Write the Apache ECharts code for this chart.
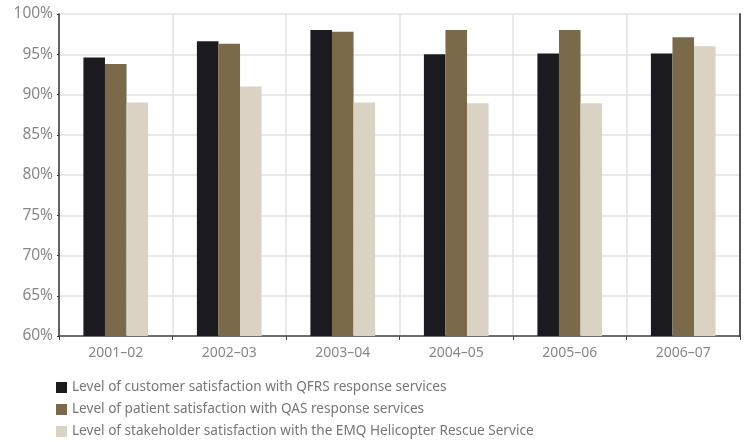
<!DOCTYPE html>
<html>
<head>
<meta charset="utf-8">
<script src="https://cdn.jsdelivr.net/npm/echarts@6/dist/echarts.min.js"></script>
<style>
  html, body { margin: 0; padding: 0; background: #fff; }
  #chart { width: 744px; height: 442px; }
</style>
</head>
<body>
<div id="chart"></div>
<script>
// chart data
const years = ['2001–02', '2002–03', '2003–04', '2004–05', '2005–06', '2006–07'];
const qfrsCustomer = [94.6, 96.6, 98.0, 95.0, 95.1, 95.1];
const qasPatient = [93.8, 96.3, 97.8, 98.0, 98.0, 97.1];
const emqStakeholder = [89.0, 91.0, 89.0, 88.9, 88.9, 96.0];
const yTicks = [60, 65, 70, 75, 80, 85, 90, 95, 100];

const seriesNames = [
    'Level of customer satisfaction with QFRS response services',
    'Level of patient satisfaction with QAS response services',
    'Level of stakeholder satisfaction with the EMQ Helicopter Rescue Service'
];
const colors = ['#1b1a1e', '#7a6a4a', '#dad3c4'];
const font = '"Noto Sans", sans-serif';

const chart = echarts.init(document.getElementById('chart'), null, { renderer: 'canvas' });

chart.setOption({
    animation: false,
    backgroundColor: '#fff',
    color: colors,
    textStyle: { fontFamily: font },
    grid: { left: 59, right: 4, top: 14, bottom: 106 },
    legend: {
        orient: 'vertical',
        left: 56,
        top: 379,
        height: 66,
        padding: 0,
        itemWidth: 11,
        itemHeight: 11,
        itemGap: 5,
        icon: 'rect',
        textStyle: { color: '#777', fontSize: 13.6, lineHeight: 17, fontFamily: font },
        data: seriesNames
    },
    xAxis: {
        type: 'category',
        data: years,
        axisLine: { lineStyle: { color: '#444', width: 1.5 } },
        axisTick: { show: true, length: 4, lineStyle: { color: '#444' } },
        axisLabel: { color: '#888', fontSize: 14, margin: 10, fontFamily: font },
        splitLine: { show: true, lineStyle: { color: '#e2e2e2', width: 1.5 } }
    },
    yAxis: [{
        type: 'value',
        min: 60,
        max: 100,
        interval: 5,
        axisLine: { show: true, lineStyle: { color: '#333', width: 1.5 } },
        axisTick: { show: true, length: 2, lineStyle: { color: '#333' } },
        axisLabel: {
            color: '#888', fontSize: 15.5, margin: 6, fontFamily: font,
            formatter: v => yTicks.includes(v) ? v + '%' : ''
        },
        splitLine: { lineStyle: { color: '#e2e2e2', width: 1.5 } }
    }, {
        type: 'value',
        position: 'right',
        min: 60,
        max: 100,
        axisLine: { show: true, lineStyle: { color: '#555', width: 2 } },
        axisTick: { show: false },
        axisLabel: { show: false },
        splitLine: { show: false }
    }],
    series: [
        { name: seriesNames[0], type: 'bar', data: qfrsCustomer, barGap: '0%', barCategoryGap: '43%' },
        { name: seriesNames[1], type: 'bar', data: qasPatient, barGap: '0%', barCategoryGap: '43%' },
        { name: seriesNames[2], type: 'bar', data: emqStakeholder, barGap: '0%', barCategoryGap: '43%' }
    ]
});
</script>
</body>
</html>
